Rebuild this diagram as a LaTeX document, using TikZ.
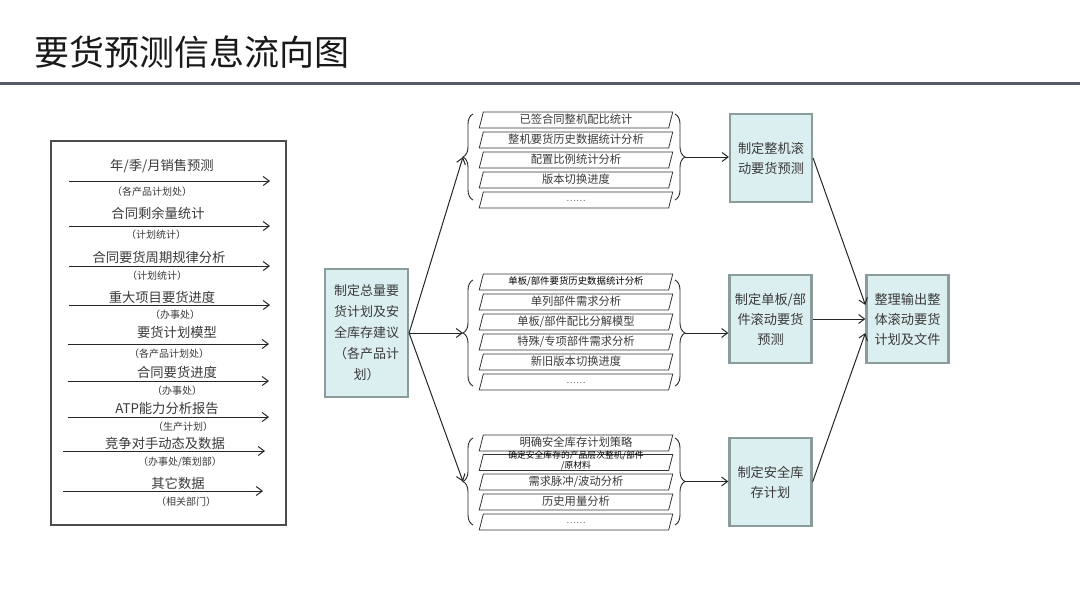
\documentclass[tikz,border=0pt]{standalone}
\usepackage{fontspec}
\setmainfont{Noto Sans CJK SC}
\usetikzlibrary{arrows.meta,shapes.geometric,decorations.pathreplacing,calc}
\definecolor{boxfill}{HTML}{DCEFF0}
\definecolor{boxedge}{HTML}{8A9C9C}
\definecolor{txt}{HTML}{3A3A3A}
\definecolor{rulecol}{HTML}{555A68}
\begin{document}
\begin{tikzpicture}[x=1pt,y=-1pt,
  lbl/.style={font=\fontsize{13.3}{16}\selectfont, text=txt, inner sep=0},
  subl/.style={font=\fontsize{10}{12}\selectfont, text=txt, inner sep=0},
  flow/.style={draw=black!85, line width=1pt, -{Straight Barb[length=6pt,width=9pt]}},
  para/.style={trapezium, trapezium left angle=70, trapezium right angle=110,
    trapezium stretches=true, text width=182pt, align=center,
    text height=9pt, text depth=2pt, minimum width=194pt, minimum height=16pt, inner sep=0,
    draw=black!80, line width=0.8pt, fill=white, text=txt,
    font=\fontsize{11.3}{13}\selectfont},
  dots/.style={font=\fontsize{9}{9}\selectfont, text=black!55, inner sep=0},
  keybox/.style={draw=boxedge, line width=2.2pt, fill=boxfill, text=txt, align=center,
    inner sep=0, minimum width=82pt, minimum height=88pt,
    font=\fontsize{13.2}{20}\selectfont},
  curly/.style={decorate, decoration={brace, amplitude=10pt}, draw=black!85, line width=0.9pt}
]
\useasboundingbox (0,0) rectangle (1080,608);
\fill[white] (0,0) rectangle (1080,608);

% title
\node[anchor=west, inner sep=0, font=\fontsize{35}{40}\selectfont, text=black!90] (title) at (34,52) {要货预测信息流向图};
\draw[rulecol, line width=3pt] (0,83) -- (1080,83);

% left source box
\node[draw=black!70, line width=1.3pt, minimum width=235pt, minimum height=384pt, inner sep=0] (src) at (168.5,333) {};

\coordinate (a1) at (69,181); \coordinate (b1) at (270,181);
\coordinate (a2) at (69,226); \coordinate (b2) at (270,226);
\coordinate (a3) at (69,266); \coordinate (b3) at (270,266);
\coordinate (a4) at (69,305); \coordinate (b4) at (270,305);
\coordinate (a5) at (68,344); \coordinate (b5) at (269,344);
\coordinate (a6) at (68,381); \coordinate (b6) at (269,381);
\coordinate (a7) at (68,417); \coordinate (b7) at (269,417);
\coordinate (a8) at (63,451); \coordinate (b8) at (265,451);
\coordinate (a9) at (63,491); \coordinate (b9) at (263,491);
\foreach \i in {1,...,9} { \draw[flow] (a\i) -- (b\i); }

\node[lbl] (l1) at (162,166) {年/季/月销售预测};
\node[subl] (u1) at (152,192) {（各产品计划处）};
\node[lbl] (l2) at (158,213) {合同剩余量统计};
\node[subl] (u2) at (156,235) {（计划统计）};
\node[lbl] (l3) at (159,257) {合同要货周期规律分析};
\node[subl] (u3) at (157,276) {（计划统计）};
\node[lbl] (l4) at (162,297) {重大项目要货进度};
\node[subl] (u4) at (175,315) {（办事处）};
\node[lbl] (l5) at (177,332) {要货计划模型};
\node[subl] (u5) at (169,354) {（各产品计划处）};
\node[lbl] (l6) at (177,372) {合同要货进度};
\node[subl] (u6) at (177,391) {（办事处）};
\node[lbl] (l7) at (167,408) {ATP能力分析报告};
\node[subl] (u7) at (183,427) {（生产计划）};
\node[lbl] (l8) at (165,443) {竞争对手动态及数据};
\node[subl] (u8) at (180,462) {（办事处/策划部）};
\node[lbl] (l9) at (178,483) {其它数据};
\node[subl] (u9) at (186,502) {（相关部门）};

% centre box
\node[keybox, minimum width=83pt, minimum height=128pt, font=\fontsize{13}{21}\selectfont] (total) at (366.5,333)
  {制定总量要\\货计划及安\\全库存建议\\（各产品计\\划）};

% top stack
\node[para] (r11) at (576,120) {已签合同整机配比统计};
\node[para] (r12) at (576,140) {整机要货历史数据统计分析};
\node[para] (r13) at (576,160) {配置比例统计分析};
\node[para] (r14) at (576,180) {版本切换进度};
\node[para] (r15) at (576,200) {};
\node[dots] (d15) at (576,201) {……};

% middle stack
\node[para] (r21) at (576,282) {};
\node[font=\fontsize{9.4}{11}\selectfont, text=black, inner sep=0] (t21) at (576,281) {单板/部件要货历史数据统计分析};
\node[para] (r22) at (576,302) {单列部件需求分析};
\node[para] (r23) at (576,322) {单板/部件配比分解模型};
\node[para] (r24) at (576,342) {特殊/专项部件需求分析};
\node[para] (r25) at (576,362) {新旧版本切换进度};
\node[para] (r26) at (576,382) {};
\node[dots] (d26) at (576,383) {……};

% bottom stack
\node[para] (r31) at (576,443) {明确安全库存计划策略};
\node[para] (r32) at (576,462.5) {};
\node[font=\fontsize{8.8}{10.5}\selectfont, text=black, inner sep=0, align=center] (t32) at (576,460.5)
  {确定安全库存的产品层次整机/部件\\/原材料};
\node[para] (r33) at (576,482) {需求脉冲/波动分析};
\node[para] (r34) at (576,502) {历史用量分析};
\node[para] (r35) at (576,522) {};
\node[dots] (d35) at (576,523) {……};

% braces
\draw[curly] (473,200) -- (473,114);
\draw[curly] (675,114) -- (675,200);
\draw[curly] (473,386) -- (473,280);
\draw[curly] (675,280) -- (675,386);
\draw[curly] (473,525) -- (473,438);
\draw[curly] (675,438) -- (675,525);
\coordinate (t1) at (463,157);
\coordinate (t2) at (463,333);
\coordinate (t3) at (463,481.5);
\coordinate (o1) at (685,157);
\coordinate (o2) at (685,333);
\coordinate (o3) at (685,481.5);

% right boxes
\node[keybox] (fa) at (771,158) {制定整机滚\\动要货预测};
\node[keybox] (fb) at (770.5,319) {制定单板/部\\件滚动要货\\预测};
\node[keybox] (fc) at (770.5,482) {制定安全库\\存计划};
\node[keybox] (fd) at (907.5,319) {整理输出整\\体滚动要货\\计划及文件};

% connectors
\draw[flow] (total.east) -- (t1);
\draw[flow] (total.east) -- (t2);
\draw[flow] (total.east) -- (t3);
\draw[flow] (o1) -- (o1 -| fa.west);
\draw[flow] (o2) -- (o2 -| fb.west);
\draw[flow] (o3) -- (o3 -| fc.west);
\draw[flow] (fb.east) -- (fd.west);
\draw[flow] (fa.east) -- ($(fd.west)+(0,-14)$);
\draw[flow] (fc.east) -- ($(fd.west)+(0,14)$);
\end{tikzpicture}
\end{document}
